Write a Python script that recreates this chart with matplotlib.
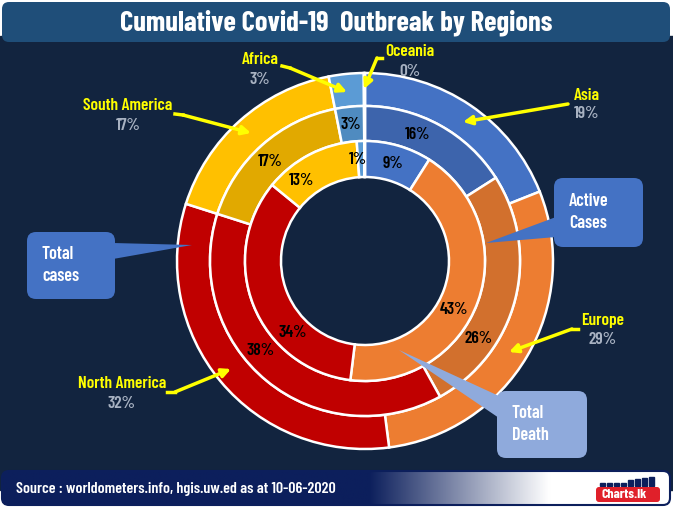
import numpy as np
import matplotlib.pyplot as plt
from matplotlib.patches import FancyBboxPatch, Rectangle, Polygon

W, H = 673, 512

# data (share of world, %)
regions = ['Asia', 'Europe', 'North America', 'South America', 'Africa', 'Oceania']
total_cases = [19, 29, 32, 17, 3, 0.1]
active_cases = [16, 26, 38, 17, 3, 0.1]
total_death = [9, 43, 34, 13, 1, 0.1]

outer_colors = ['#4472c4', '#ed7d31', '#c00000', '#ffc000', '#5b9bd5', '#a5a5a5']
middle_colors = ['#3d64ac', '#d2702d', '#c00000', '#e1a900', '#4f8bc0', '#a5a5a5']
inner_colors = ['#4472c4', '#ed7d31', '#c00000', '#ffc000', '#5b9bd5', '#a5a5a5']

# label angle nudges (degrees) so labels sit like in the original
middle_shift = [6, -20, -10, 2, 0, 0]
inner_shift = [0, -9, 23, 11, 2, 0]

navy = '#12243f'
yel = '#ffff00'
grey = '#a8b2c2'

plt.rcParams['font.family'] = ['Barlow Condensed', 'DejaVu Sans']
plt.rcParams['font.weight'] = 600

fig = plt.figure(figsize=(W / 100, H / 100), dpi=100, facecolor='white')
ax = fig.add_axes([0, 0, 1, 1])

cx, cy = 365, H - 261


def Y(y):
    return H - y


def ring(vals, radius, width, colors):
    wedges, _ = ax.pie(vals, radius=radius, center=(cx, cy), startangle=90,
                       counterclock=False, colors=colors,
                       wedgeprops=dict(width=width, edgecolor='white', linewidth=1.8))
    for w in wedges:
        w.set_zorder(2)
    return wedges


def ring_labels(wedges, vals, r, shifts):
    for w, v, s in zip(wedges, vals, shifts):
        if v < 0.5:
            continue
        a = np.deg2rad((w.theta1 + w.theta2) / 2 + s)
        ax.text(cx + r * np.cos(a), cy + r * np.sin(a), f'{v:.0f}%', ha='center',
                va='center', fontsize=12.5, color='black', zorder=4)


# background panels
ax.add_patch(Rectangle((0, Y(490)), W, 490 - 36, color=navy, zorder=0))
ax.add_patch(FancyBboxPatch((2, Y(42)), 668, 40, boxstyle='round,pad=0,rounding_size=7',
                            facecolor='#1f4e79', edgecolor='none', zorder=1))
ax.text(W / 2, Y(23), 'Cumulative Covid-19  Outbreak by Regions', ha='center', va='center',
        color='white', fontsize=20.5, fontweight='bold', zorder=3)

outer = ring(total_cases, 188, 33, outer_colors)
middle = ring(active_cases, 155, 35, middle_colors)
inner = ring(total_death, 120, 36, inner_colors)
ring_labels(middle, active_cases, 137, middle_shift)
ring_labels(inner, total_death, 102, inner_shift)

# outer labels with yellow arrows
outer_text = {
    'Oceania': (410, 52),
    'Africa': (260, 60),
    'Asia': (587, 95),
    'South America': (128, 106),
    'Europe': (603, 320),
    'North America': (122, 384),
}
arrow_paths = {
    'Oceania': [(382, 58), (377, 58), (364, 89)],
    'Africa': [(282, 66), (290, 68), (347, 92)],
    'Asia': [(568, 104), (463, 122)],
    'South America': [(175, 114), (183, 115), (251, 133)],
    'Europe': [(578, 329), (572, 329), (509, 352)],
    'North America': [(167, 392), (175, 392), (231, 369)],
}
for name, val in zip(regions, total_cases):
    tx, ty = outer_text[name]
    ax.text(tx, Y(ty), name, ha='center', va='center', color=yel, fontsize=12.5, zorder=6)
    ax.text(tx, Y(ty + 19), f'{val:.0f}%', ha='center', va='center', color=grey,
            fontsize=12.5, zorder=6)
    pts = arrow_paths[name]
    xs = [p[0] for p in pts]
    ys = [Y(p[1]) for p in pts]
    if len(pts) > 2:
        ax.plot(xs[:-1], ys[:-1], color=yel, lw=2.5, zorder=6)
    ax.annotate('', xy=(xs[-1], ys[-1]), xytext=(xs[-2], ys[-2]), zorder=6,
                arrowprops=dict(arrowstyle='-|>', color=yel, lw=2.5, mutation_scale=13,
                                shrinkA=0, shrinkB=0))


# callout boxes
def callout(x0, y0, x1, y1, color, text, tip, base):
    ax.add_patch(FancyBboxPatch((x0, Y(y1)), x1 - x0, y1 - y0,
                                boxstyle='round,pad=0,rounding_size=9',
                                facecolor=color, edgecolor='none', zorder=7))
    ax.add_patch(Polygon([(base[0][0], Y(base[0][1])), (tip[0], Y(tip[1])),
                          (base[1][0], Y(base[1][1]))], closed=True,
                         facecolor=color, edgecolor='none', zorder=7))
    ax.text(x0 + 15, Y((y0 + y1) / 2), text, ha='left', va='center', color='white',
            fontsize=13, linespacing=1.45, zorder=8)


callout(554, 178, 643, 247, '#4472c4', 'Active\nCases', (486, 243), [(556, 217), (556, 237)])
callout(27, 232, 115, 299, '#4472c4', 'Total\ncases', (192, 245), [(113, 243), (113, 259)])
callout(497, 391, 587, 458, '#8faadc', 'Total\nDeath', (399, 350), [(499, 396), (499, 418)])

# footer bar with gradient
foot = FancyBboxPatch((2, Y(505)), 668, 34, boxstyle='round,pad=0,rounding_size=7',
                      facecolor='none', edgecolor='#0c1f5c', linewidth=1.5, zorder=9)
ax.add_patch(foot)
xg = np.linspace(0, 1, 400)
t = np.clip((xg - 0.55) / 0.27, 0, 1)
c0 = np.array([12, 31, 92]) / 255
grad = (c0[None, :] * (1 - t[:, None]) + t[:, None])[None, :, :]
im = ax.imshow(grad, extent=(2, 670, Y(505), Y(471)), aspect='auto', zorder=8)
im.set_clip_path(foot)
ax.text(16, Y(489), 'Source : worldometers.info, hgis.uw.ed as at 10-06-2020', ha='left',
        va='center', color='white', fontsize=11.5, zorder=10)

# logo
for i, h in enumerate([3, 3, 3, 3, 6, 7, 8, 9]):
    ax.add_patch(Rectangle((600 + i * 7, Y(486)), 4.5, h, color='#0c1f5c', zorder=10))
ax.add_patch(FancyBboxPatch((596, Y(502)), 64, 15, boxstyle='round,pad=0,rounding_size=3',
                            facecolor='#e0202a', edgecolor='none', zorder=10))
ax.text(624, Y(494.5), 'Charts.lk', ha='center', va='center', color='white', fontsize=10,
        fontweight='bold', zorder=11)

ax.set_xlim(0, W)
ax.set_ylim(0, H)
ax.set_aspect('auto')
ax.axis('off')

fig.savefig('out.png', dpi=100, facecolor='white')
